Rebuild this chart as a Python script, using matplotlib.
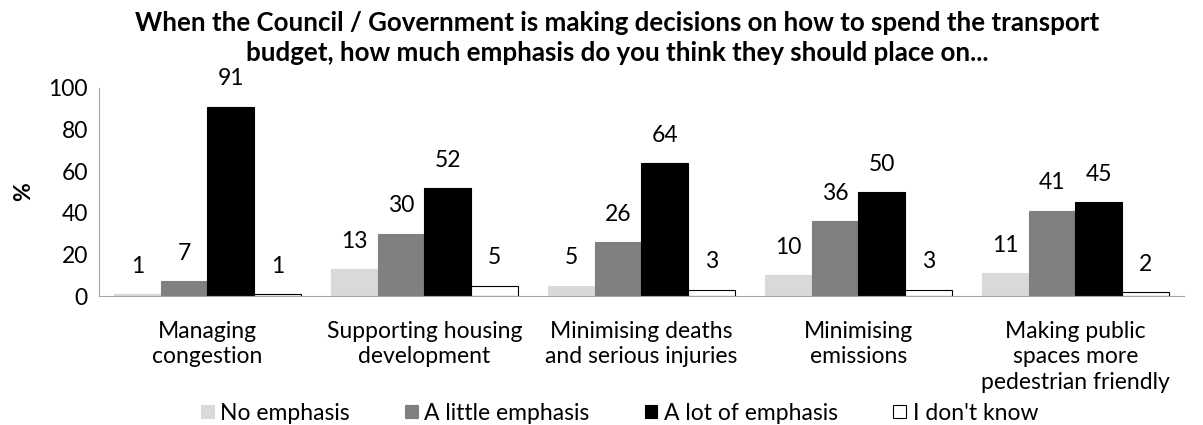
import matplotlib.pyplot as plt
import numpy as np

plt.rcParams['font.family'] = ['Lato', 'DejaVu Sans']

categories = ["Managing\ncongestion", "Supporting housing\ndevelopment",
              "Minimising deaths\nand serious injuries", "Minimising\nemissions",
              "Making public\nspaces more\npedestrian friendly"]
series_names = ["No emphasis", "A little emphasis", "A lot of emphasis", "I don't know"]
no_emphasis = [1, 13, 5, 10, 11]
little_emphasis = [7, 30, 26, 36, 41]
lot_emphasis = [91, 52, 64, 50, 45]
dont_know = [1, 5, 3, 3, 2]

colors = ["#d9d9d9", "#808080", "#000000", "#ffffff"]
edges = ["#d9d9d9", "#808080", "#000000", "#000000"]
fs = 16.5

fig = plt.figure(figsize=(12.03, 4.25), dpi=100)
ax = fig.add_axes([0.0823, 0.3035, 0.9017, 0.4895])

x = np.arange(len(categories))
w = 0.215
all_series = [no_emphasis, little_emphasis, lot_emphasis, dont_know]
for i, vals in enumerate(all_series):
    pos = x + (i - 1.5) * w
    ax.bar(pos, vals, width=w, color=colors[i], edgecolor=edges[i],
           linewidth=0.8, label=series_names[i])
    for xp, v in zip(pos, vals):
        ax.annotate(str(v), (xp, v), xytext=(0, 20), textcoords='offset points',
                    ha='center', va='center', fontsize=fs)

ax.set_xlim(-0.5, len(categories) - 0.5)
ax.set_ylim(0, 100)
ax.set_yticks([0, 20, 40, 60, 80, 100])
ax.set_xticks(x)
ax.set_xticklabels(categories, fontsize=fs, linespacing=1.25)
ax.tick_params(axis='y', labelsize=fs, length=0, pad=8)
ax.tick_params(axis='x', length=0, pad=18)
for s in ['top', 'right']:
    ax.spines[s].set_visible(False)
for s in ['left', 'bottom']:
    ax.spines[s].set_color('#a6a6a6')
ax.set_ylabel('%', fontsize=fs, fontweight='bold', labelpad=10)

fig.suptitle("When the Council / Government is making decisions on how to spend the transport\n"
             "budget, how much emphasis do you think they should place on...",
             fontsize=18.6, fontweight='bold', x=0.513, y=0.975, linespacing=1.3)

fig.legend(loc='center', bbox_to_anchor=(0.515, 0.028), ncol=4, frameon=False,
           fontsize=fs, handlelength=0.55, handleheight=0.55, handletextpad=0.3,
           columnspacing=2.4)

plt.savefig('out.png', dpi=100)
